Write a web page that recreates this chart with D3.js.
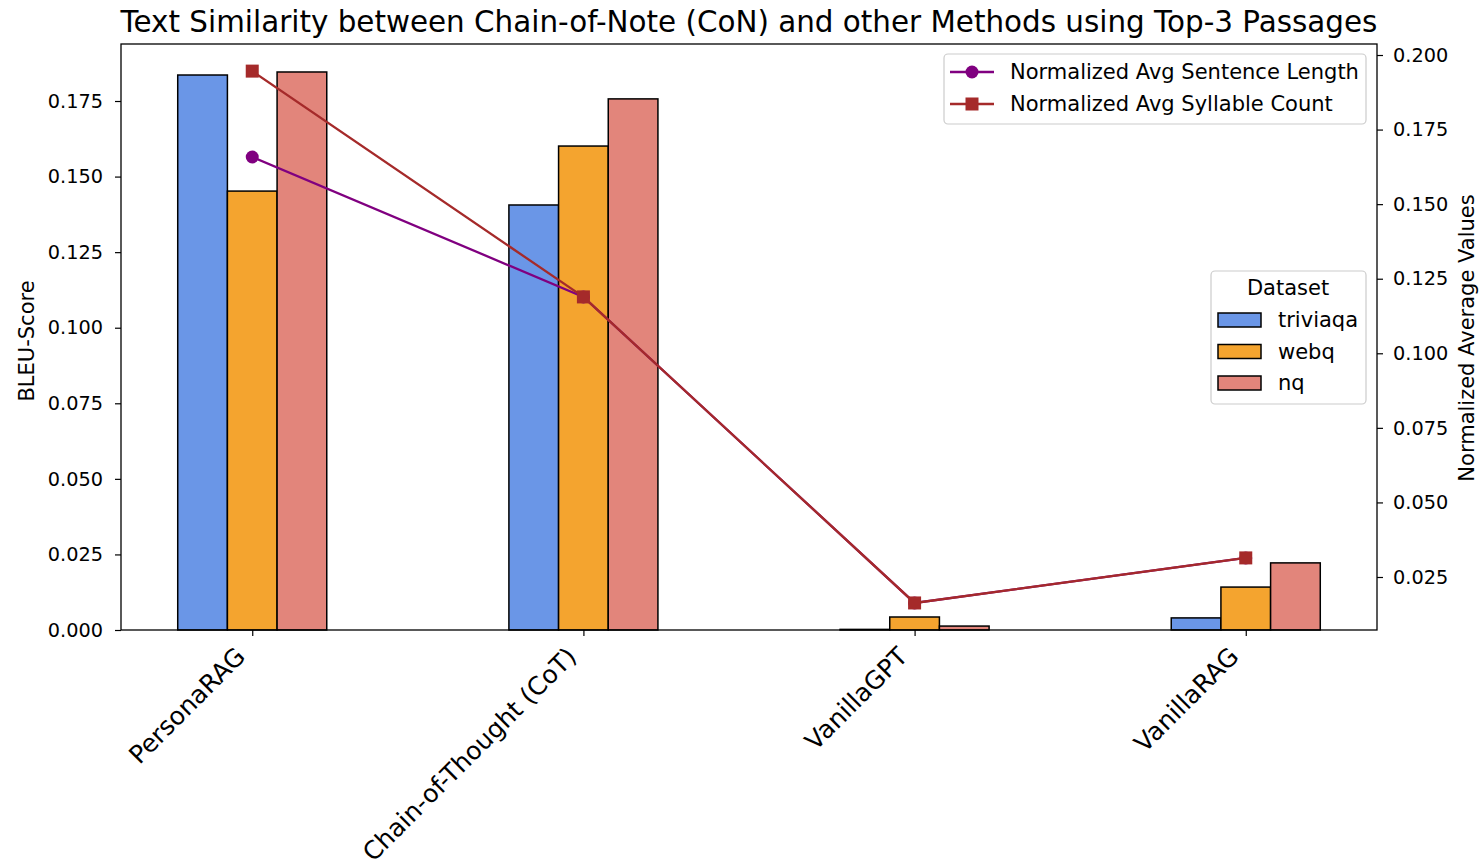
<!DOCTYPE html>
<html><head><meta charset="utf-8">
<script src="https://cdn.jsdelivr.net/npm/d3@7"></script>
<style>body{margin:0;background:#fff}svg{display:block}text{font-family:"DejaVu Sans",sans-serif;fill:#000}</style>
</head><body><svg id="c" width="1479" height="863"></svg>
<script>
const categories = ["PersonaRAG","Chain-of-Thought (CoT)","VanillaGPT","VanillaRAG"];
const datasets = ["triviaqa","webq","nq"];
const triviaqa = [0.1836,0.1406,0.0002,0.0040];
const webq = [0.1452,0.1601,0.0043,0.0142];
const nq = [0.1846,0.1757,0.0013,0.0222];
const sentenceLength = [0.1658,0.1189,0.0163,0.0314];
const syllableCount = [0.1946,0.1189,0.0163,0.0314];
const leftTicks = [0,0.025,0.05,0.075,0.1,0.125,0.15,0.175];
const rightTicks = [0.025,0.05,0.075,0.1,0.125,0.15,0.175,0.2];
const colors = {triviaqa:"#6A96E7", webq:"#F4A42F", nq:"#E2857B"};
const seriesVals = {triviaqa, webq, nq};

const svg = d3.select("#c");
const L=121, R=1377, T=44, B=630;
const fs = 19.3, lfs = 21;
const xi = d3.scaleLinear().domain([-0.3963, 3.3963]).range([L,R]);
const barW = 0.15;
const yL = d3.scaleLinear().domain([0,0.19386]).range([B,T]);
const yR = d3.scaleLinear().domain([0.00723,0.20369]).range([B,T]);

// bars
datasets.forEach((ds,j)=>{
  svg.append("g").selectAll("rect").data(seriesVals[ds]).join("rect")
    .attr("x",(d,i)=>xi(i+(j-1)*barW-barW/2))
    .attr("width",xi(barW)-xi(0))
    .attr("y",d=>yL(d))
    .attr("height",d=>B-yL(d))
    .attr("fill",colors[ds]).attr("stroke","#000").attr("stroke-width",1.5);
});

// lines
function drawLine(vals,color,marker){
  svg.append("path").datum(vals)
    .attr("d",d3.line().x((d,i)=>xi(i)).y(d=>yR(d)))
    .attr("fill","none").attr("stroke",color).attr("stroke-width",2.3);
  const g=svg.append("g");
  if(marker==="circle"){
    g.selectAll("circle").data(vals).join("circle")
      .attr("cx",(d,i)=>xi(i)).attr("cy",d=>yR(d)).attr("r",6.5).attr("fill",color);
  } else {
    g.selectAll("rect").data(vals).join("rect")
      .attr("x",(d,i)=>xi(i)-6.5).attr("y",d=>yR(d)-6.5).attr("width",13).attr("height",13).attr("fill",color);
  }
}
drawLine(sentenceLength,"#800080","circle");
drawLine(syllableCount,"#A52A2A","square");

// frame
svg.append("rect").attr("x",L).attr("y",T).attr("width",R-L).attr("height",B-T)
  .attr("fill","none").attr("stroke","#000").attr("stroke-width",1.3);

// axes
const axL = svg.append("g").attr("transform",`translate(${L},0)`)
  .call(d3.axisLeft(yL).tickValues(leftTicks).tickFormat(d3.format(".3f")).tickSize(6).tickPadding(12));
const axR = svg.append("g").attr("transform",`translate(${R},0)`)
  .call(d3.axisRight(yR).tickValues(rightTicks).tickFormat(d3.format(".3f")).tickSize(6).tickPadding(10));
const axB = svg.append("g").attr("transform",`translate(0,${B})`)
  .call(d3.axisBottom(xi).tickValues([0,1,2,3]).tickFormat(i=>categories[i]).tickSize(6));
[axL,axR,axB].forEach(a=>{a.select(".domain").remove();a.selectAll("line").attr("stroke","#000").attr("stroke-width",1.2);
  a.selectAll("text").style("font-size",fs+"px").attr("font-family","DejaVu Sans");});
axB.selectAll("text").style("font-size","25px").attr("text-anchor","end").attr("dy",null).attr("y",0)
  .attr("transform","translate(-6,28) rotate(-45)");

// axis labels
svg.append("text").attr("transform","translate(34,341) rotate(-90)").attr("text-anchor","middle")
  .style("font-size",lfs+"px").text("BLEU-Score");
svg.append("text").attr("transform","translate(1474,338) rotate(-90)").attr("text-anchor","middle")
  .style("font-size",lfs+"px").text("Normalized Average Values");

// title
svg.append("text").attr("x",(L+R)/2).attr("y",32).attr("text-anchor","middle")
  .style("font-size","29.4px").text("Text Similarity between Chain-of-Note (CoN) and other Methods using Top-3 Passages");

// legend 1
const lg1 = svg.append("g");
lg1.append("rect").attr("x",944).attr("y",54).attr("width",422).attr("height",70).attr("rx",4)
  .attr("fill","#fff").attr("fill-opacity",0.8).attr("stroke","#ccc").attr("stroke-width",1.2);
[["Normalized Avg Sentence Length","#800080","circle",72],["Normalized Avg Syllable Count","#A52A2A","square",104]].forEach(([t,c,m,y])=>{
  lg1.append("line").attr("x1",950).attr("x2",994).attr("y1",y).attr("y2",y).attr("stroke",c).attr("stroke-width",2.3);
  if(m==="circle") lg1.append("circle").attr("cx",972).attr("cy",y).attr("r",6.5).attr("fill",c);
  else lg1.append("rect").attr("x",965.5).attr("y",y-6.5).attr("width",13).attr("height",13).attr("fill",c);
  lg1.append("text").attr("x",1010).attr("y",y).attr("dy","0.35em").style("font-size",lfs+"px").text(t);
});

// legend 2
const lg2 = svg.append("g");
lg2.append("rect").attr("x",1211).attr("y",271).attr("width",155).attr("height",133).attr("rx",4)
  .attr("fill","#fff").attr("fill-opacity",0.8).attr("stroke","#ccc").attr("stroke-width",1.2);
lg2.append("text").attr("x",1288).attr("y",288).attr("dy","0.35em").attr("text-anchor","middle").style("font-size",lfs+"px").text("Dataset");
datasets.forEach((ds,j)=>{
  const y=320+j*31.5;
  lg2.append("rect").attr("x",1218).attr("y",y-7).attr("width",43).attr("height",14)
    .attr("fill",colors[ds]).attr("stroke","#000").attr("stroke-width",1.5);
  lg2.append("text").attr("x",1278).attr("y",y).attr("dy","0.35em").style("font-size",lfs+"px").text(ds);
});
</script></body></html>
